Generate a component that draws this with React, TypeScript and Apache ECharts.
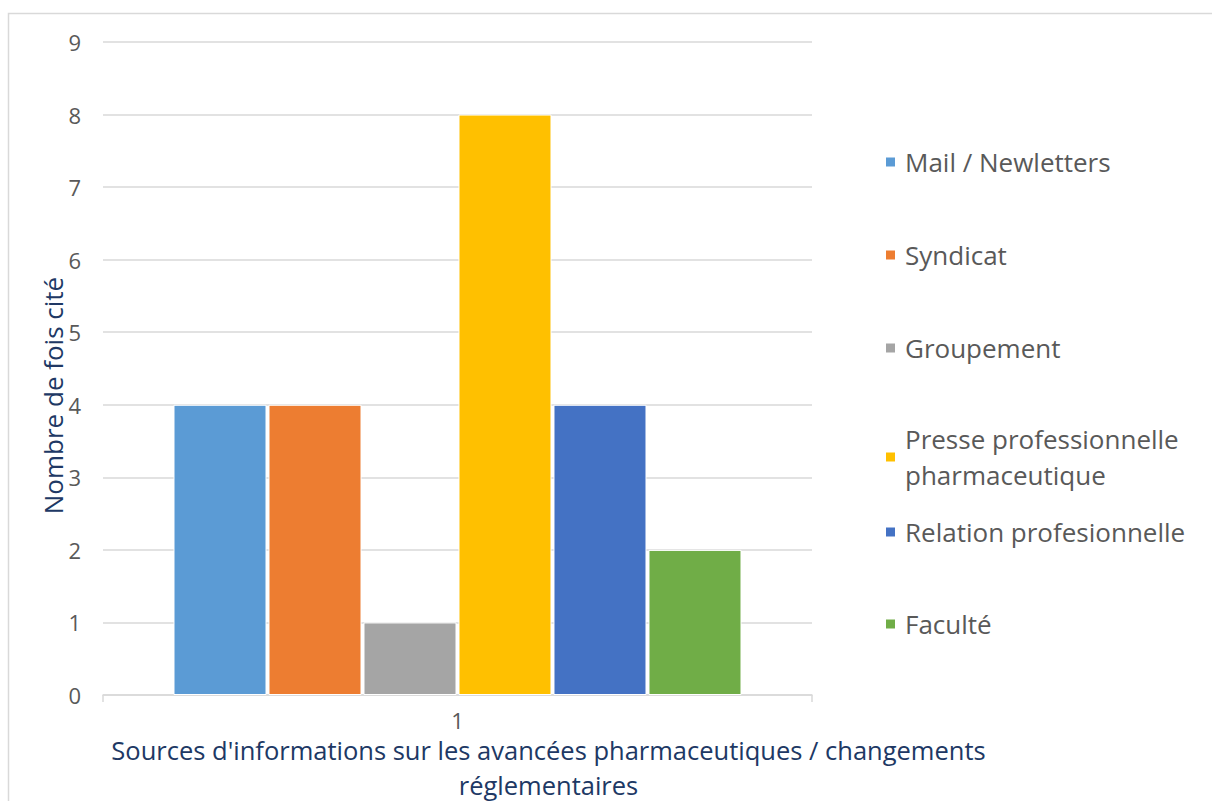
import React, { useEffect, useRef } from "react";
import * as echarts from "echarts";

const categories = ["1"];
const seriesNames = [
  "Mail / Newletters",
  "Syndicat",
  "Groupement",
  "Presse professionnelle pharmaceutique",
  "Relation profesionnelle",
  "Faculté",
];
const seriesValues = [4, 4, 1, 8, 4, 2];
const seriesColors = ["#5B9BD5", "#ED7D31", "#A5A5A5", "#FFC000", "#4472C4", "#70AD47"];
const legendLabels = [
  "Mail / Newletters",
  "Syndicat",
  "Groupement",
  "Presse professionnelle\npharmaceutique",
  "Relation profesionnelle",
  "Faculté",
];
const legendTops = [144, 237, 330, 403, 514, 606];
const yAxisTitle = "Nombre de fois cité";
const xAxisTitle =
  "Sources d'informations sur les avancées pharmaceutiques / changements\nréglementaires";

const FONT = "'Open Sans', 'Noto Sans', sans-serif";

export default function App() {
  const ref = useRef<HTMLDivElement>(null);
  useEffect(() => {
    if (!ref.current) return;
    const chart = echarts.init(ref.current, null, { renderer: "svg" });
    const legends = seriesNames.map((name, i) => ({
      data: [name],
      left: 884,
      top: legendTops[i],
      padding: 0,
      icon: "rect",
      itemWidth: 11,
      itemHeight: 11,
      formatter: () => legendLabels[i],
      textStyle: {
        color: "#595959",
        fontSize: 26,
        fontFamily: FONT,
        lineHeight: 36,
        padding: legendLabels[i].includes("\n") ? [36, 0, 0, 4] : [0, 0, 0, 4],
      },
    }));
    chart.setOption({
      animation: false,
      backgroundColor: "#ffffff",
      textStyle: { fontFamily: FONT },
      graphic: [
        {
          type: "rect",
          shape: { x: 8.5, y: 13.5, width: 1400, height: 1000 },
          style: { fill: "none", stroke: "#d9d9d9", lineWidth: 1.5 },
          silent: true,
        },
      ],
      grid: {
        left: 103,
        right: 400,
        top: 42,
        bottom: 106,
        containLabel: false,
        outerBoundsMode: "none",
      },
      legend: legends,
      xAxis: {
        type: "category",
        data: categories,
        name: xAxisTitle,
        nameLocation: "middle",
        nameMoveOverlap: false,
        nameGap: 37,
        nameTextStyle: {
          color: "#203864",
          fontSize: 25.5,
          fontFamily: FONT,
          lineHeight: 35,
          padding: [0, 0, 0, 182],
        },
        axisLine: { lineStyle: { color: "#d9d9d9", width: 1.5 } },
        axisTick: { show: true, length: 7, lineStyle: { color: "#d9d9d9", width: 1.5 } },
        axisLabel: { color: "#595959", fontSize: 22, fontFamily: FONT, margin: 14 },
      },
      yAxis: {
        type: "value",
        min: 0,
        max: 9,
        interval: 1,
        name: yAxisTitle,
        nameLocation: "middle",
        nameMoveOverlap: false,
        nameRotate: 90,
        nameGap: 33,
        nameTextStyle: {
          color: "#203864",
          fontSize: 26,
          fontFamily: FONT,
          lineHeight: 35,
          padding: [0, 54, 0, 0],
        },
        axisLine: { show: false },
        axisTick: { show: false },
        splitLine: { lineStyle: { color: "#d9d9d9", width: 1.5 } },
        axisLabel: { color: "#595959", fontSize: 22, fontFamily: FONT, margin: 22 },
      },
      series: seriesNames.map((name, i) => ({
        type: "bar",
        name,
        data: [seriesValues[i]],
        barWidth: 93,
        barGap: "2.15%",
        itemStyle: { color: seriesColors[i], borderColor: "#ffffff", borderWidth: 1 },
      })),
    });
    return () => chart.dispose();
  }, []);
  return (
    <div
      ref={ref}
      style={{ position: "fixed", left: 0, top: 0, width: 1212, height: 801 }}
    />
  );
}
